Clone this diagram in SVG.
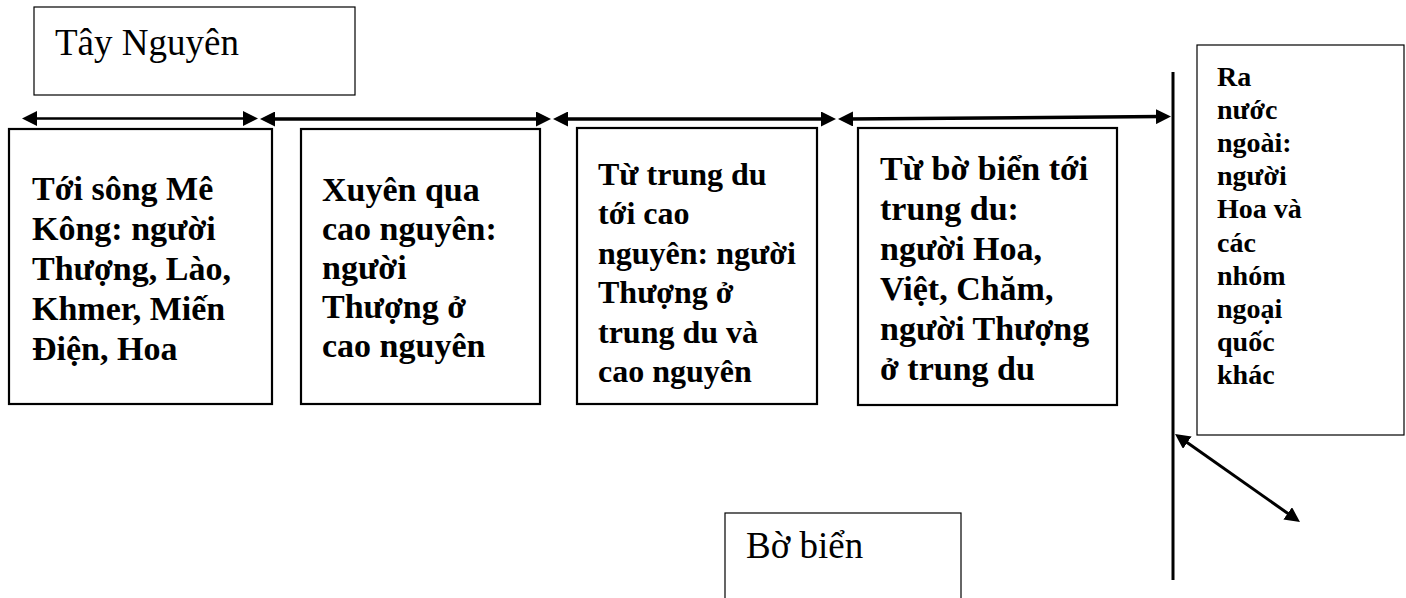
<svg xmlns="http://www.w3.org/2000/svg" width="1406" height="598" viewBox="0 0 1406 598">
  <style>
    .bg { fill: #ffffff; }
    .thin { fill: #ffffff; stroke: #000000; stroke-width: 1.2; }
    .box { fill: #ffffff; stroke: #000000; stroke-width: 2.2; }
    .label { font-family: "Liberation Serif", "Times New Roman", serif; font-size: 37px; fill: #000000; }
    .bold { font-family: "Liberation Serif", "Times New Roman", serif; font-weight: bold; font-size: 34px; fill: #000000; }
    .small { font-family: "Liberation Serif", "Times New Roman", serif; font-weight: bold; font-size: 28px; fill: #000000; }
    .arrow { fill: none; stroke: #000000; stroke-width: 3.5; marker-start: url(#head); marker-end: url(#head); }
    .arrow.light { stroke-width: 2.5; }
    .rule { fill: none; stroke: #000000; stroke-width: 3; }
  </style>
  <defs>
    <marker id="head" viewBox="0 0 15 15" markerWidth="15" markerHeight="15" markerUnits="userSpaceOnUse" refX="5" refY="7.5" orient="auto-start-reverse">
      <path d="M0,0 L15,7.5 L0,15 z" fill="#000000"/>
    </marker>
  </defs>

  <rect class="bg" x="0" y="0" width="1406" height="598"/>

  <!-- region labels -->
  <g id="tay-nguyen">
    <rect class="thin" x="34" y="7" width="321" height="88"/>
    <text class="label" x="55" y="55">Tây Nguyên</text>
  </g>

  <g id="bo-bien">
    <rect class="thin" x="725" y="513" width="236" height="100"/>
    <text class="label" x="746" y="558">Bờ biển</text>
  </g>

  <!-- zone boxes -->
  <g id="mekong">
    <rect class="box" x="9" y="129" width="263" height="275"/>
    <text class="bold">
      <tspan x="32" y="200">Tới sông Mê</tspan>
      <tspan x="32" y="240">Kông: người</tspan>
      <tspan x="32" y="280">Thượng, Lào,</tspan>
      <tspan x="32" y="320">Khmer, Miến</tspan>
      <tspan x="32" y="360">Điện, Hoa</tspan>
    </text>
  </g>

  <g id="cao-nguyen">
    <rect class="box" x="301" y="129" width="239" height="275"/>
    <text class="bold">
      <tspan x="322" y="201">Xuyên qua</tspan>
      <tspan x="322" y="240">cao nguyên:</tspan>
      <tspan x="322" y="279">người</tspan>
      <tspan x="322" y="318">Thượng ở</tspan>
      <tspan x="322" y="357">cao nguyên</tspan>
    </text>
  </g>

  <g id="trung-du-cao-nguyen">
    <rect class="box" x="577" y="128" width="240" height="276"/>
    <text class="bold" style="font-size:32px">
      <tspan x="598" y="185">Từ trung du</tspan>
      <tspan x="598" y="224.4">tới cao</tspan>
      <tspan x="598" y="263.8">nguyên: người</tspan>
      <tspan x="598" y="303.2">Thượng ở</tspan>
      <tspan x="598" y="342.6">trung du và</tspan>
      <tspan x="598" y="382">cao nguyên</tspan>
    </text>
  </g>

  <g id="bo-bien-trung-du">
    <rect class="box" x="858" y="128" width="259" height="277"/>
    <text class="bold">
      <tspan x="880" y="180">Từ bờ biển tới</tspan>
      <tspan x="880" y="220">trung du:</tspan>
      <tspan x="880" y="260">người Hoa,</tspan>
      <tspan x="880" y="300">Việt, Chăm,</tspan>
      <tspan x="880" y="340">người Thượng</tspan>
      <tspan x="880" y="380">ở trung du</tspan>
    </text>
  </g>

  <g id="nuoc-ngoai">
    <rect class="thin" x="1197" y="45" width="207" height="390"/>
    <text class="small">
      <tspan x="1217" y="85.5">Ra</tspan>
      <tspan x="1217" y="118.7">nước</tspan>
      <tspan x="1217" y="151.9">ngoài:</tspan>
      <tspan x="1217" y="185.1">người</tspan>
      <tspan x="1217" y="218.3">Hoa và</tspan>
      <tspan x="1217" y="251.5">các</tspan>
      <tspan x="1217" y="284.7">nhóm</tspan>
      <tspan x="1217" y="317.9">ngoại</tspan>
      <tspan x="1217" y="351.1">quốc</tspan>
      <tspan x="1217" y="384.3">khác</tspan>
    </text>
  </g>

  <!-- connectors -->
  <g id="connectors">
    <line class="rule" x1="1173" y1="72" x2="1173" y2="580"/>
    <line class="arrow light" x1="32" y1="118.5" x2="248" y2="118.5"/>
    <line class="arrow" x1="270" y1="119" x2="541" y2="119"/>
    <line class="arrow" x1="563" y1="119" x2="826" y2="119"/>
    <line class="arrow" x1="848" y1="119" x2="1161" y2="116.6"/>
    <line class="arrow" style="stroke-width:3" x1="1183.2" y1="439.8" x2="1291.8" y2="516.2"/>
  </g>
</svg>
